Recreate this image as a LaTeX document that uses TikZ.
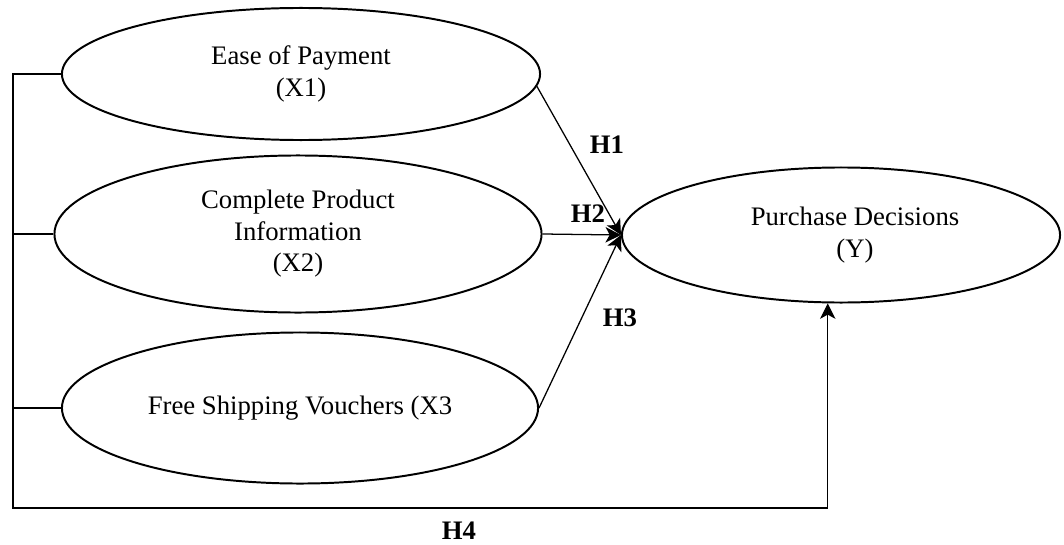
\documentclass[tikz,border=0pt]{standalone}
\usepackage{fontspec}
\setmainfont{Liberation Serif}
\usetikzlibrary{shapes.geometric, arrows.meta, positioning, calc}

\begin{document}
\begin{tikzpicture}[
    x=0.025cm, y=-0.025cm,
    construct/.style={draw, ellipse, line width=1.4pt, inner sep=0pt, align=center, font=\fontsize{19}{22.4}\selectfont},
    path arrow/.style={line width=0.9pt, -{Stealth[length=11pt, width=11pt, inset=3pt]}},
    frame line/.style={line width=1pt},
    hyp/.style={font=\fontsize{19}{22}\selectfont\bfseries}
]
\useasboundingbox (0,0) rectangle (1064,545);

% Nodes
\node[construct, minimum width=11.95cm, minimum height=3.3cm] (X1) at (301, 74) {Ease of Payment\\(X1)};
\node[construct, minimum width=12.175cm, minimum height=3.925cm] (X2) at (298, 234) {Complete Product\\Information\\(X2)};
\node[construct, minimum width=11.9cm, minimum height=3.775cm] (X3) at (300, 408) {Free Shipping Vouchers (X3};
\node[construct, minimum width=10.95cm, minimum height=3.375cm] (Y) at (841, 235) {\hspace*{0.7cm}Purchase Decisions\\\hspace*{0.7cm}(Y)};

\coordinate (corner) at (13, 508);

% Direct paths
\draw[path arrow] (X1.-3) -- (Y.west);
\draw[path arrow] (X2.east) -- (Y.west);
\draw[path arrow] (X3.east) -- (Y.west);

% Simultaneous path
\draw[frame line] (X2.west) -- (X2.west -| corner);
\draw[frame line] (X3.west) -- (X3.west -| corner);
\draw[frame line, path arrow] (X1.west) -| (corner) -| (Y.259);

% Hypothesis labels
\node[hyp] (H1) at (607, 145) {H1};
\node[hyp] (H2) at (588, 214) {H2};
\node[hyp] (H3) at (620, 318) {H3};
\node[hyp] (H4) at (459, 531) {H4};

\end{tikzpicture}
\end{document}
